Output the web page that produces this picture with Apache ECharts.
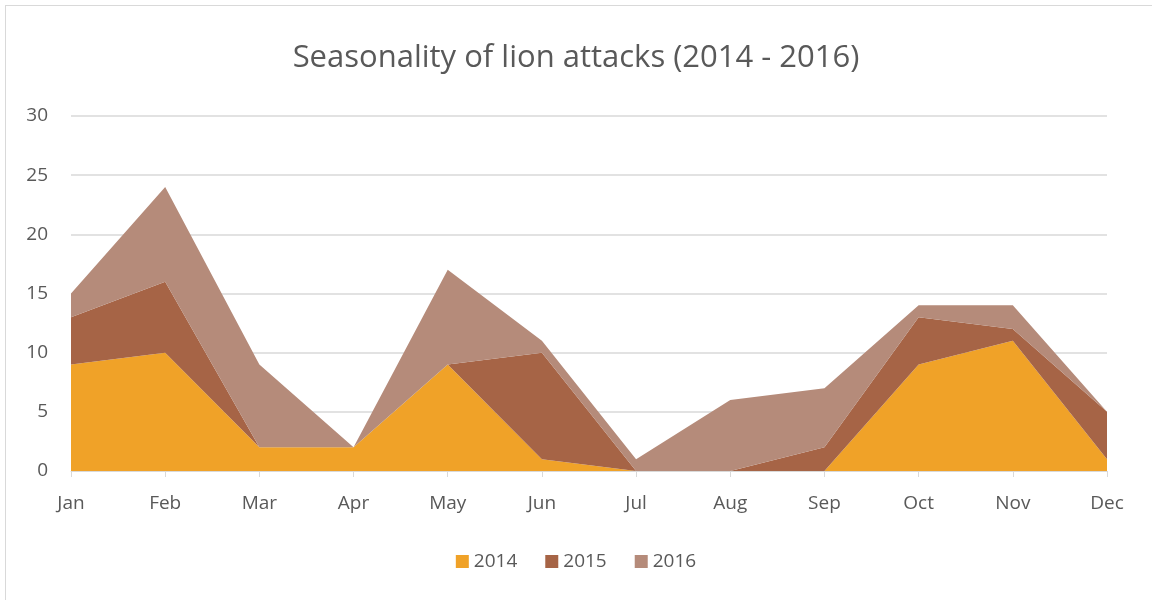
<!DOCTYPE html>
<html><head><meta charset="utf-8">
<script src="https://cdn.jsdelivr.net/npm/echarts@6/dist/echarts.min.js"></script>
<style>
html,body{margin:0;padding:0;background:#fff;}
#frame{position:absolute;left:5px;top:5px;width:1150px;height:600px;border:1px solid #d9d9d9;box-sizing:border-box;}
#c{position:absolute;left:0;top:0;width:1152px;height:600px;}
</style></head>
<body><div id="frame"></div><div id="c"></div>
<script>
const months = ['Jan','Feb','Mar','Apr','May','Jun','Jul','Aug','Sep','Oct','Nov','Dec'];
const s2014 = [9,10,2,2,9,1,0,0,0,9,11,1];
const s2015 = [4,6,0,0,0,9,0,0,2,4,1,4];
const s2016 = [2,8,7,0,8,1,1,6,5,1,2,0];
const yTicks = [0,5,10,15,20,25,30];
const colors = ['#F0A228','#A66446','#B58B7A'];
const font = 'Open Sans';

const chart = echarts.init(document.getElementById('c'));
function mk(name, data, color){
  return {name, type:'line', stack:'total', data, symbol:'none', showSymbol:false,
    lineStyle:{width:0}, areaStyle:{color, opacity:1}, itemStyle:{color}};
}
chart.setOption({
  animation:false,
  title:{text:'Seasonality of lion attacks (2014 - 2016)', left:'center', top:38,
    textStyle:{fontFamily:font, fontSize:31, fontWeight:'normal', color:'#595959'}},
  grid:{left:71, right:45, top:116, bottom:129},
  legend:{bottom:24, left:'center', itemWidth:13, itemHeight:13, itemGap:28, icon:'rect',
    textStyle:{fontFamily:font, fontSize:19, color:'#595959'},
    data:['2014','2015','2016']},
  xAxis:{type:'category', data:months, boundaryGap:false,
    axisLine:{lineStyle:{color:'#d9d9d9'}},
    axisTick:{show:true, alignWithLabel:true, length:6, lineStyle:{color:'#d9d9d9'}},
    axisLabel:{fontFamily:font, fontSize:19, color:'#595959', margin:23}},
  yAxis:{type:'value', min:yTicks[0], max:yTicks[yTicks.length-1], interval:5,
    axisLine:{show:false}, axisTick:{show:false},
    splitLine:{lineStyle:{color:'#d9d9d9', width:1.5}},
    axisLabel:{fontFamily:font, fontSize:19, color:'#595959', margin:23}},
  series:[mk('2014', s2014, colors[0]), mk('2015', s2015, colors[1]), mk('2016', s2016, colors[2])]
});
</script></body></html>
